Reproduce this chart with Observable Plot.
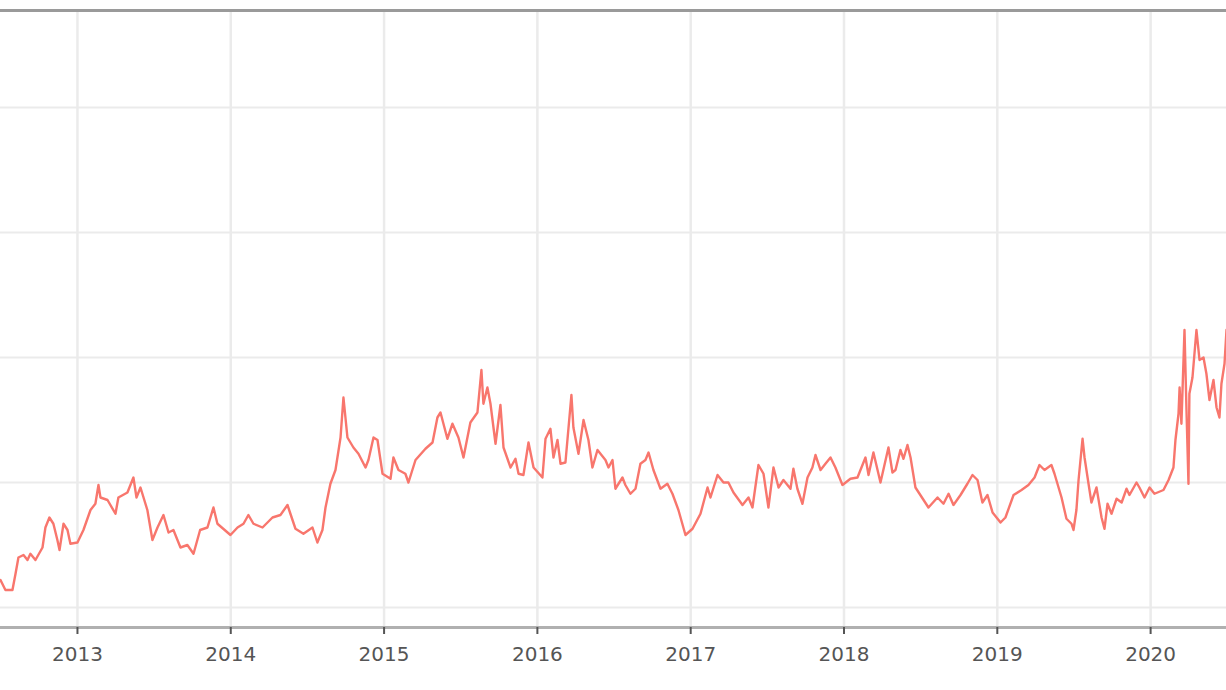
<!DOCTYPE html>
<html>
<head>
<meta charset="utf-8">
<script src="https://cdn.jsdelivr.net/npm/d3@7"></script>
<script src="https://cdn.jsdelivr.net/npm/@observablehq/plot@0.6"></script>
<style>
  html, body { margin: 0; padding: 0; background: #ffffff; }
  #chart svg { display: block; font-family: "DejaVu Sans", sans-serif; }
</style>
</head>
<body>
<div id="chart"></div>
<script>
// Decimal-year time stamps
const dates = [
  2012.498, 2012.530, 2012.576, 2012.596, 2012.615, 2012.648, 2012.674, 2012.693, 2012.726, 2012.772,
  2012.791, 2012.817, 2012.843, 2012.869, 2012.883, 2012.909, 2012.935, 2012.954, 2013.000, 2013.039,
  2013.085, 2013.117, 2013.137, 2013.150, 2013.196, 2013.248, 2013.267, 2013.326, 2013.365, 2013.385,
  2013.411, 2013.456, 2013.489, 2013.522, 2013.561, 2013.594, 2013.626, 2013.672, 2013.717, 2013.757,
  2013.800, 2013.848, 2013.887, 2013.913, 2013.998, 2014.044, 2014.083, 2014.115, 2014.148, 2014.207,
  2014.272, 2014.324, 2014.370, 2014.389, 2014.422, 2014.474, 2014.533, 2014.565, 2014.598, 2014.618,
  2014.650, 2014.683, 2014.716, 2014.735, 2014.761, 2014.800, 2014.833, 2014.879, 2014.898, 2014.931,
  2014.957, 2014.990, 2015.042, 2015.061, 2015.094, 2015.139, 2015.159, 2015.205, 2015.270, 2015.316,
  2015.348, 2015.368, 2015.413, 2015.446, 2015.485, 2015.518, 2015.563, 2015.609, 2015.635, 2015.648,
  2015.674, 2015.694, 2015.727, 2015.759, 2015.779, 2015.825, 2015.857, 2015.877, 2015.909, 2015.942,
  2015.975, 2016.033, 2016.053, 2016.085, 2016.105, 2016.131, 2016.151, 2016.183, 2016.222, 2016.235,
  2016.268, 2016.301, 2016.333, 2016.359, 2016.392, 2016.444, 2016.464, 2016.490, 2016.509, 2016.555,
  2016.574, 2016.607, 2016.640, 2016.672, 2016.705, 2016.725, 2016.757, 2016.803, 2016.848, 2016.881,
  2016.920, 2016.966, 2017.012, 2017.064, 2017.110, 2017.129, 2017.175, 2017.214, 2017.246, 2017.279,
  2017.338, 2017.377, 2017.403, 2017.442, 2017.475, 2017.507, 2017.540, 2017.573, 2017.605, 2017.651,
  2017.670, 2017.696, 2017.729, 2017.762, 2017.794, 2017.814, 2017.847, 2017.879, 2017.912, 2017.944,
  2017.990, 2018.042, 2018.088, 2018.140, 2018.160, 2018.192, 2018.238, 2018.290, 2018.316, 2018.336,
  2018.368, 2018.388, 2018.414, 2018.434, 2018.466, 2018.551, 2018.610, 2018.649, 2018.682, 2018.714,
  2018.760, 2018.805, 2018.838, 2018.871, 2018.903, 2018.936, 2018.969, 2019.021, 2019.053, 2019.106,
  2019.158, 2019.203, 2019.243, 2019.275, 2019.308, 2019.353, 2019.373, 2019.419, 2019.451, 2019.484,
  2019.497, 2019.516, 2019.530, 2019.556, 2019.569, 2019.595, 2019.614, 2019.647, 2019.680, 2019.699,
  2019.719, 2019.745, 2019.778, 2019.811, 2019.843, 2019.862, 2019.908, 2019.927, 2019.960, 2019.993,
  2020.025, 2020.084, 2020.117, 2020.149, 2020.162, 2020.182, 2020.189, 2020.201, 2020.221, 2020.234,
  2020.247, 2020.253, 2020.273, 2020.299, 2020.319, 2020.345, 2020.364, 2020.384, 2020.410, 2020.430,
  2020.449, 2020.462, 2020.482, 2020.495
];

// Series values (same order as dates)
const values = [
  122, 114, 114, 127, 140, 142, 138, 143, 138, 148,
  164, 172, 167, 154, 146, 167, 162, 151, 152, 162,
  178, 183, 198, 188, 186, 175, 188, 192, 204, 188,
  196, 178, 154, 164, 174, 160, 162, 148, 150, 143,
  162, 164, 180, 167, 158, 164, 167, 174, 167, 164,
  172, 174, 182, 175, 163, 159, 164, 152, 162, 180,
  199, 210, 236, 268, 236, 228, 223, 212, 218, 236,
  234, 207, 203, 220, 210, 207, 200, 218, 227, 232,
  252, 256, 235, 247, 236, 220, 248, 256, 290, 263,
  276, 263, 231, 262, 228, 212, 219, 207, 206, 232,
  212, 204, 235, 243, 220, 234, 215, 216, 270, 244,
  223, 250, 234, 212, 226, 218, 212, 218, 195, 204,
  198, 191, 195, 215, 218, 224, 210, 195, 199, 191,
  178, 158, 163, 175, 196, 188, 206, 200, 200, 192,
  182, 188, 180, 214, 207, 180, 212, 196, 202, 195,
  211, 195, 183, 204, 212, 222, 210, 215, 220, 212,
  198, 203, 204, 220, 206, 224, 200, 228, 208, 210,
  226, 219, 230, 220, 196, 180, 188, 183, 191, 182,
  190, 199, 206, 202, 184, 190, 176, 168, 172, 190,
  194, 198, 204, 214, 210, 214, 207, 188, 171, 167,
  162, 178, 202, 235, 220, 199, 184, 196, 172, 163,
  183, 175, 187, 184, 195, 190, 200, 196, 188, 196,
  191, 194, 202, 212, 234, 255, 276, 247, 322, 258,
  199, 271, 284, 322, 298, 300, 287, 266, 282, 260,
  252, 279, 295, 322
];

// Tick / grid values
const yearTicks = [2013, 2014, 2015, 2016, 2017, 2018, 2019, 2020];
const yGrid = [100, 200, 300, 400, 500];
const xDomain = [2012.498, 2020.495];
const yDomain = [84, 577.6];

const data = dates.map((d, i) => ({date: d, value: values[i]}));

const chart = Plot.plot({
  width: 1226,
  height: 690,
  marginTop: 10,
  marginBottom: 63,
  marginLeft: 0,
  marginRight: 0,
  style: {background: "#ffffff", fontFamily: "DejaVu Sans, sans-serif"},
  x: {domain: xDomain, axis: null},
  y: {domain: yDomain, axis: null},
  marks: [
    Plot.ruleY(yGrid, {stroke: "#ebebeb", strokeWidth: 2}),
    Plot.ruleX(yearTicks, {stroke: "#ebebeb", strokeWidth: 2.5}),
    Plot.ruleY([yDomain[1]], {stroke: "#9a9a9a", strokeWidth: 3}),
    Plot.ruleY([yDomain[0]], {stroke: "#b0b0b0", strokeWidth: 3}),
    Plot.lineY(data, {x: "date", y: "value", stroke: "#f8766d", strokeWidth: 2.4, strokeLinejoin: "round"}),
    Plot.axisX({
      ticks: yearTicks,
      tickFormat: d => String(d),
      tickSize: 7,
      tickPadding: 12,
      strokeWidth: 2,
      stroke: "#555555",
      fill: "#555555",
      fontSize: 20,
      label: null
    })
  ]
});

document.getElementById("chart").appendChild(chart);
</script>
</body>
</html>
